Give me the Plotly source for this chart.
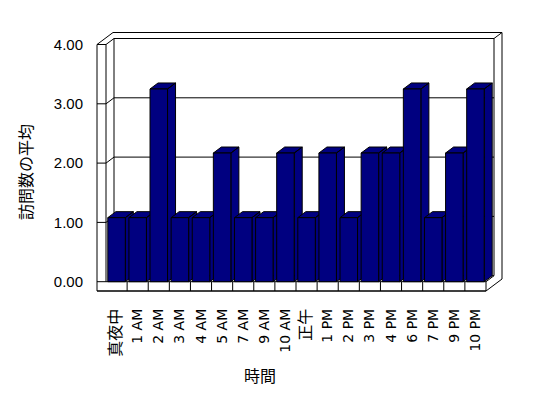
import plotly.graph_objects as go

# ---- data ----
categories = ["真夜中", "1 AM", "2 AM", "3 AM", "4 AM", "5 AM", "7 AM", "9 AM", "10 AM",
              "正午", "1 PM", "2 PM", "3 PM", "4 PM", "6 PM", "7 PM", "9 PM", "10 PM"]
values = [1.08, 1.08, 3.25, 1.08, 1.08, 2.17, 1.08, 1.08, 2.17,
          1.08, 2.17, 1.08, 2.17, 2.17, 3.25, 1.08, 2.17, 3.25]
y_ticks = [0, 1, 2, 3, 4]
y_tick_labels = ["0.00", "1.00", "2.00", "3.00", "4.00"]
x_title = "時間"
y_title = "訪問数の平均"

# ---- geometry (style) ----
OFF = 8               # page body margin
W, H = 548 - OFF, 398 - OFF
ML, MR, MT, MB = 94 - OFF, 40, 30 - OFF, 104 - OFF
PPX = 21.111          # px per category
X0PX = 116.56 - OFF   # px of first category centre
PPY = 59.3            # px per value unit
Y0PX = 281.7 - OFF    # px of value 0
xr = [(ML - X0PX) / PPX, (W - MR - X0PX) / PPX]
yr = [(Y0PX - (H - MB)) / PPY, (Y0PX - MT) / PPY]

BAR_W = 0.83
DX = 8 / PPX
DY = 6 / PPY
WALL = 9 / PPX
FLOOR = 9.3 / PPY
n = len(categories)
XL = -0.5
XR = n - 0.5
TOP = y_ticks[-1]
NAVY = "#000080"

fig = go.Figure()

# side + top faces (depth) of each bar, drawn left to right
for i, v in enumerate(values):
    l, r = i - BAR_W / 2, i + BAR_W / 2
    xs = [r, r + DX, r + DX, r, r, None, l, l + DX, r + DX, r, l]
    ys = [0, DY, v + DY, v, 0, None, v, v + DY, v + DY, v, v]
    fig.add_trace(go.Scatter(x=xs, y=ys, mode="lines", fill="toself",
                             fillcolor=NAVY, line=dict(color="black", width=1),
                             hoverinfo="skip", showlegend=False,
                             xaxis="x", yaxis="y"))

# front faces: real bars on an overlaid axis pair so they sit on top
fig.add_trace(go.Bar(x=list(range(n)), y=values, width=BAR_W,
                     marker=dict(color=NAVY, line=dict(color="black", width=1)),
                     showlegend=False, xaxis="x2", yaxis="y2"))

shapes = []
def line(x0, y0, x1, y1):
    shapes.append(dict(type="line", xref="x", yref="y", x0=x0, y0=y0, x1=x1, y1=y1,
                       line=dict(color="black", width=1), layer="below"))

# silhouette of walls + floor
outer = [(XL - WALL, -FLOOR), (XL - WALL, TOP), (XL - WALL + 2 * DX, TOP + 2 * DY),
         (XR + 2 * DX, TOP + 2 * DY), (XR + 2 * DX, -FLOOR + 2 * DY), (XR, -FLOOR)]
path = "M " + " L ".join(f"{x},{y}" for x, y in outer) + " Z"
shapes.append(dict(type="path", xref="x", yref="y", path=path, fillcolor="white",
                   line=dict(color="black", width=1), layer="below"))

# left wall
line(XL, 0, XL, TOP)
line(XL - WALL, TOP, XL, TOP)
line(XL, TOP, XL + DX, TOP + DY)
# back wall inner face
line(XL + DX, DY, XL + DX, TOP + DY)
line(XL + DX, TOP + DY, XR + DX, TOP + DY)
line(XR + DX, DY, XR + DX, TOP + DY)
line(XR + DX, TOP + DY, XR + 2 * DX, TOP + 2 * DY)
line(XL + DX, DY, XR + DX, DY)
# floor
line(XL, 0, XR, 0)
line(XR, -FLOOR, XR, 0)
line(XR, 0, XR + DX, DY)
line(XL - WALL, -FLOOR, XR, -FLOOR)
for k in range(1, n):
    line(XL + k, -FLOOR, XL + k, 0)
# value lines: on left wall, then onto back wall
for v in y_ticks[:-1]:
    line(XL - WALL, v, XL, v)
    if v > 0:
        line(XL, v, XL + DX, v + DY)
        line(XL + DX, v + DY, XR + DX, v + DY)

pw = W - ML - MR
ph = H - MT - MB
def paper_x(px):
    return (px - OFF - ML) / pw
def paper_y(py):
    return (H - MB - (py - OFF)) / ph

annotations = [
    dict(text=y_title, x=paper_x(25), y=paper_y(172), xref="paper", yref="paper",
         textangle=-90, showarrow=False, xanchor="center", yanchor="middle",
         font=dict(family="Noto Sans CJK JP", size=16, color="black")),
    dict(text=x_title, x=paper_x(260), y=paper_y(375), xref="paper", yref="paper",
         showarrow=False, xanchor="center", yanchor="middle",
         font=dict(family="Noto Sans CJK JP", size=16, color="black")),
]

def tick_text(label):
    if any(ord(c) > 0x2E80 for c in label):
        return f'<span style="font-size:16px">{label}</span>'
    return label

fig.update_layout(
    width=W, height=H,
    margin=dict(l=ML, r=MR, t=MT, b=MB, pad=0),
    paper_bgcolor="white", plot_bgcolor="rgba(0,0,0,0)",
    shapes=shapes, annotations=annotations,
    font=dict(family="DejaVu Sans, Noto Sans CJK JP", size=13, color="black"),
    xaxis=dict(range=xr, tickmode="array", tickvals=list(range(n)),
               ticktext=[tick_text(c) for c in categories],
               tickangle=-90, showgrid=False, zeroline=False, showline=False,
               ticks="", ticklabelstandoff=3, automargin=False,
               tickfont=dict(family="DejaVu Sans, Noto Sans CJK JP", size=14)),
    yaxis=dict(range=yr, tickmode="array", tickvals=y_ticks, ticktext=y_tick_labels,
               showgrid=False, zeroline=False, showline=False, ticks="",
               ticklabelstandoff=10, automargin=False,
               tickfont=dict(family="Liberation Sans", size=15)),
    xaxis2=dict(range=xr, overlaying="x", visible=False),
    yaxis2=dict(range=yr, overlaying="y", visible=False),
)

fig.write_html("out.html")
